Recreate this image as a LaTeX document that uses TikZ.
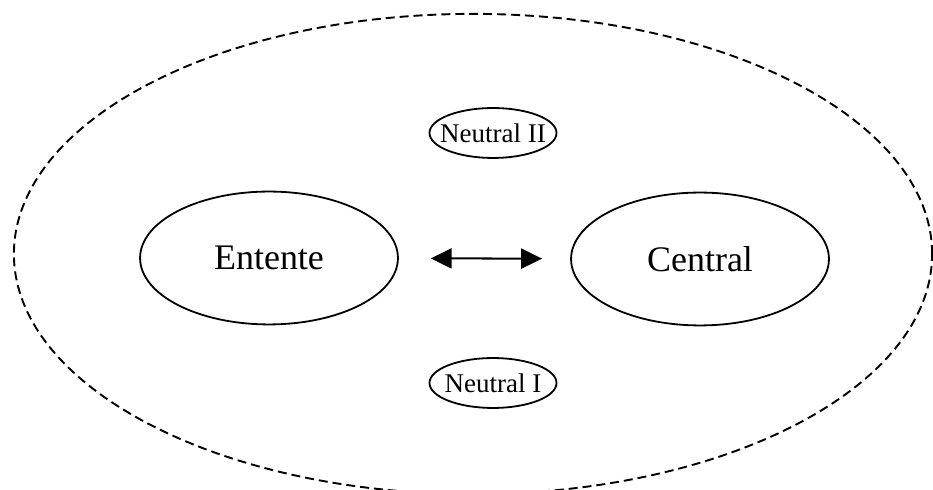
\documentclass[tikz,border=0pt]{standalone}
\usepackage{fontspec}
\setmainfont{Liberation Serif}
\usetikzlibrary{shapes.geometric,arrows.meta}
\begin{document}
\begin{tikzpicture}[
            x=0.4448pt,y=-0.4448pt,thick,
            bloc node/.style={ellipse,draw,line width=0.8pt,inner sep=0pt,
                minimum width=114.7pt,minimum height=59.1pt,
                font=\fontsize{16}{19}\selectfont},
            neutral node/.style={ellipse,draw,line width=0.8pt,inner ysep=0pt,
                inner xsep=-3.6pt,minimum width=56.5pt,minimum height=22.2pt,
                font=\fontsize{12}{14}\selectfont}]
        \useasboundingbox (0,0) rectangle (933,490);
        \clip (0,0) rectangle (933,490);
        % Outer world
        \draw[dash pattern=on 4pt off 2.2pt,line width=0.85pt]
            (473,254) ellipse [x radius=204.2pt,y radius=106.8pt];

        % Define vertices
        \node[bloc node] (entente) at (269,258) {Entente};
        \node[bloc node] (central) at (700,259) {Central};
        \node[neutral node] (neutral2) at (493,133) {Neutral II};
        \node[neutral node] (neutral1) at (493,383) {Neutral I};

        % Draw edges
        \draw[{Triangle[length=9.3pt,width=8.9pt]}-{Triangle[length=9.3pt,width=8.9pt]},
            line width=0.9pt,shorten <=14.2pt,shorten >=12.5pt]
            (entente) -- (central);
        \end{tikzpicture}
\end{document}
